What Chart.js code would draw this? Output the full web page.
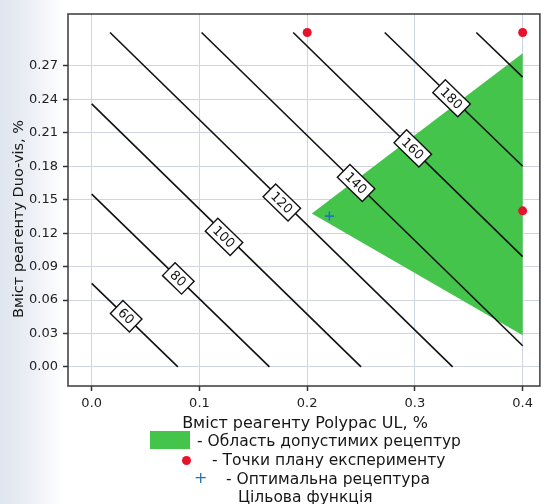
<!DOCTYPE html>
<html>
<head>
<meta charset="utf-8">
<script src="https://cdn.jsdelivr.net/npm/chart.js@4.4.1/dist/chart.umd.min.js"></script>
<style>
  html, body { margin: 0; padding: 0; }
  body {
    width: 546px; height: 504px; position: relative; overflow: hidden;
    background: linear-gradient(to right, #dfe5ee 0px, #eef1f6 35px, #ffffff 64px);
    font-family: "DejaVu Sans", sans-serif; color: #161616;
  }
  #wrap { position: absolute; left: 0; top: 0; width: 546px; height: 504px; }
  .lg { position: absolute; font-size: 15.5px; line-height: 18px; white-space: nowrap; }
  .sw { position: absolute; }
</style>
</head>
<body>
<div id="wrap"><canvas id="c" width="546" height="504"></canvas></div>

<div class="sw" style="left:150px;top:431px;width:40px;height:18px;background:#45c44c;"></div>
<div class="lg" style="left:197px;top:432px;">- Область допустимих рецептур</div>
<div class="sw" style="left:182px;top:456px;width:9px;height:9px;border-radius:50%;background:#e5132b;"></div>
<div class="lg" style="left:212px;top:451px;">- Точки плану експерименту</div>
<div class="lg" style="left:194px;top:469px;color:#2373b8;font-size:16px;">+</div>
<div class="lg" style="left:226px;top:470px;">- Оптимальна рецептура</div>
<div class="lg" style="left:238px;top:488px;">Цільова функція</div>

<script>
// ---- data ----
const xTicks = [0.0, 0.1, 0.2, 0.3, 0.4];
const yTicks = [0.00, 0.03, 0.06, 0.09, 0.12, 0.15, 0.18, 0.21, 0.24, 0.27];

// feasible region (triangle) vertices
const regionX = [0.2043, 0.400, 0.400, 0.2043];
const regionY = [0.1377, 0.2813, 0.0285, 0.1377];

// experiment plan points
const planX = [0.2, 0.4, 0.4];
const planY = [0.3, 0.3, 0.14];

// optimal recipe
const optX = [0.2206];
const optY = [0.1353];

// contour lines of the target function
const contourLevels = [60, 80, 100, 120, 140, 160, 180, 200];
const contourStartX = [0.000, 0.000, 0.000, 0.017, 0.102, 0.187, 0.272, 0.357];
const contourStartY = [0.075, 0.155, 0.236, 0.300, 0.300, 0.300, 0.300, 0.300];
const contourEndX   = [0.080, 0.165, 0.250, 0.335, 0.400, 0.400, 0.400, 0.400];
const contourEndY   = [0.000, 0.000, 0.000, 0.000, 0.019, 0.099, 0.180, 0.260];
// contour label positions (level labels, 200 has none)
const labelLevels = [60, 80, 100, 120, 140, 160, 180];
const labelX = [0.032, 0.0804, 0.1228, 0.1765, 0.2454, 0.298, 0.334];
const labelY = [0.0455, 0.0794, 0.1167, 0.1475, 0.165, 0.196, 0.241];

const xTitle = "Вміст реагенту Polypac UL, %";
const yTitle = "Вміст реагенту Duo-vis, %";

// ---- build datasets ----
const datasets = [];
datasets.push({
  label: 'region',
  data: regionX.map((x, i) => ({x, y: regionY[i]})),
  showLine: true, fill: 'shape',
  backgroundColor: '#45c44c', borderColor: '#45c44c', borderWidth: 0,
  pointRadius: 0, order: 20
});
contourLevels.forEach((lv, i) => {
  datasets.push({
    label: 'c' + lv,
    data: [{x: contourStartX[i], y: contourStartY[i]}, {x: contourEndX[i], y: contourEndY[i]}],
    showLine: true, fill: false, borderColor: '#111111', borderWidth: 1.6,
    pointRadius: 0, order: 10
  });
});
datasets.push({
  label: 'plan',
  data: planX.map((x, i) => ({x, y: planY[i]})),
  pointRadius: 4.5, pointBackgroundColor: '#e5132b', pointBorderWidth: 0,
  showLine: false, order: 2
});
datasets.push({
  label: 'opt',
  data: optX.map((x, i) => ({x, y: optY[i]})),
  pointStyle: 'cross', pointRadius: 4.5, pointBorderColor: '#2373b8', pointBorderWidth: 1.6,
  showLine: false, order: 1
});

const FONT = "'DejaVu Sans', sans-serif";

const framePlugin = {
  id: 'frame',
  beforeDraw(chart) {
    const {ctx, chartArea: a} = chart;
    ctx.save();
    ctx.fillStyle = '#ffffff';
    ctx.fillRect(a.left, a.top, a.right - a.left, a.bottom - a.top);
    ctx.restore();
  },
  afterDatasetsDraw(chart) {
    const {ctx} = chart;
    const xs = chart.scales.x, ys = chart.scales.y;
    ctx.save();
    ctx.font = "13px " + FONT;
    ctx.textAlign = 'center';
    ctx.textBaseline = 'middle';
    labelLevels.forEach((lv, i) => {
      const li = contourLevels.indexOf(lv);
      const x1 = xs.getPixelForValue(contourStartX[li]), y1 = ys.getPixelForValue(contourStartY[li]);
      const x2 = xs.getPixelForValue(contourEndX[li]), y2 = ys.getPixelForValue(contourEndY[li]);
      const ang = Math.atan2(y2 - y1, x2 - x1);
      const px = xs.getPixelForValue(labelX[i]), py = ys.getPixelForValue(labelY[i]);
      const txt = String(lv);
      const w = ctx.measureText(txt).width + 10, h = 18;
      ctx.save();
      ctx.translate(px, py);
      ctx.rotate(ang);
      ctx.fillStyle = '#ffffff';
      ctx.fillRect(-w / 2, -h / 2, w, h);
      ctx.strokeStyle = '#111';
      ctx.lineWidth = 1.4;
      ctx.strokeRect(-w / 2, -h / 2, w, h);
      ctx.fillStyle = '#111';
      ctx.fillText(txt, 0, 1);
      ctx.restore();
    });
    ctx.restore();
  },
  afterDraw(chart) {
    const {ctx, chartArea: a} = chart;
    ctx.save();
    ctx.strokeStyle = '#3a3a3a';
    ctx.lineWidth = 1.5;
    ctx.strokeRect(a.left, a.top, a.right - a.left, a.bottom - a.top);
    ctx.fillStyle = '#161616';
    ctx.textAlign = 'center';
    ctx.textBaseline = 'middle';
    ctx.font = "16px " + FONT;
    ctx.fillText(xTitle, 305, 424);
    ctx.translate(19, 219);
    ctx.rotate(-Math.PI / 2);
    ctx.font = "14.5px " + FONT;
    ctx.fillText(yTitle, 0, 0);
    ctx.restore();
  }
};

new Chart(document.getElementById('c'), {
  type: 'scatter',
  data: { datasets },
  options: {
    responsive: false,
    animation: false,
    layout: { padding: { left: 0, right: 6, top: 14, bottom: 88 } },
    plugins: { legend: { display: false }, tooltip: { enabled: false } },
    scales: {
      x: {
        type: 'linear', min: -0.022, max: 0.416,
        afterBuildTicks: s => { s.ticks = xTicks.map(v => ({value: v})); },
        afterFit: s => { s.height = 30; },
        ticks: { callback: v => Number(v).toFixed(1), font: { family: FONT, size: 13 }, color: '#222', padding: 5, maxRotation: 0 },
        grid: { color: '#cfd4de', lineWidth: 1, tickLength: 5, tickColor: '#333', tickWidth: 1.5 },
        border: { display: false }
      },
      y: {
        type: 'linear', min: -0.0171, max: 0.3166,
        afterBuildTicks: s => { s.ticks = yTicks.map(v => ({value: v})); },
        afterFit: s => { s.width = 68; },
        ticks: { callback: v => Number(v).toFixed(2), font: { family: FONT, size: 13 }, color: '#222', padding: 5 },
        grid: { color: '#cfd4de', lineWidth: 1, tickLength: 5, tickColor: '#333', tickWidth: 1.5 },
        border: { display: false }
      }
    }
  },
  plugins: [framePlugin]
});
</script>
</body>
</html>
